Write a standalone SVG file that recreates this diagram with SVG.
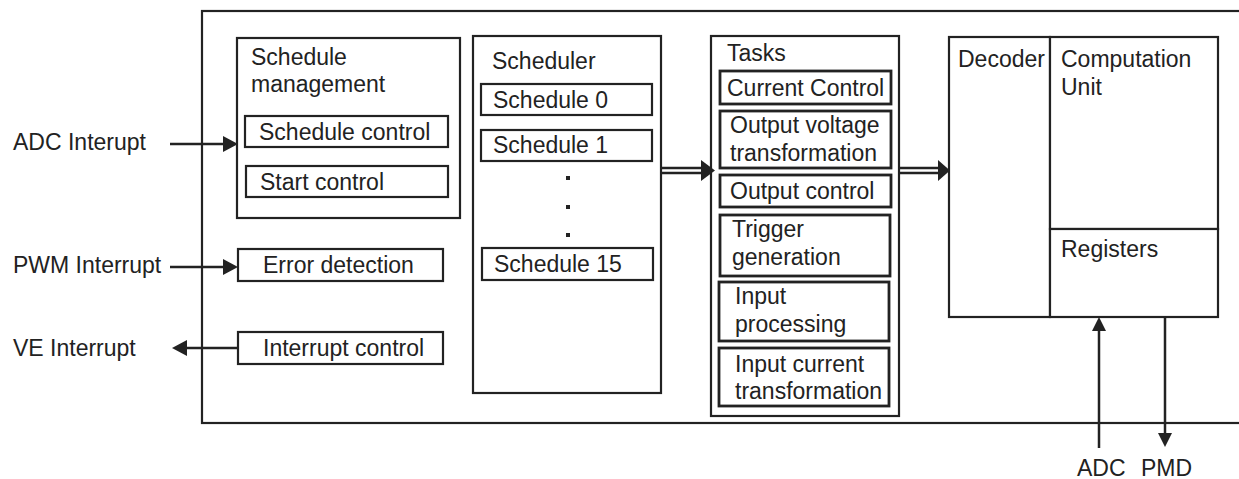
<svg xmlns="http://www.w3.org/2000/svg" width="1239" height="479" viewBox="0 0 1239 479">
<defs>
<style>
text{font-family:"Liberation Sans",Arial,sans-serif;font-size:23px;fill:#222}
.b{fill:#fff;stroke:#222;stroke-width:2.2}
.t{fill:#fff;stroke:#222;stroke-width:2.8}
.l{fill:none;stroke:#222;stroke-width:2.5}
.a{fill:#222;stroke:none}
</style>
</defs>
<rect width="1239" height="479" fill="#fff"/>
<g id="frame"><rect class="b" x="202" y="11" width="1050" height="412"/></g>
<g id="schedule-management">
<rect class="b" x="237" y="38" width="223" height="180"/>
<text x="251" y="65">Schedule</text>
<text x="251" y="92">management</text>
</g>
<g id="schedule-control"><rect class="b" x="245" y="116" width="203" height="31"/><text x="259" y="140">Schedule control</text></g>
<g id="start-control"><rect class="b" x="246" y="166" width="202" height="31"/><text x="260" y="190">Start control</text></g>
<g id="error-detection"><rect class="b" x="238" y="249" width="205" height="32"/><text x="263" y="273">Error detection</text></g>
<g id="interrupt-control"><rect class="b" x="238" y="332" width="205" height="32"/><text x="263" y="356">Interrupt control</text></g>
<g id="adc-interrupt"><text x="13" y="150">ADC Interupt</text></g>
<g id="pwm-interrupt"><text x="13" y="273">PWM Interrupt</text></g>
<g id="ve-interrupt"><text x="13" y="356">VE Interrupt</text></g>
<g id="scheduler">
<rect class="b" x="473" y="36" width="188" height="357"/>
<text x="492" y="69">Scheduler</text>
<rect class="b" x="481" y="84" width="171" height="31"/><text x="493" y="108">Schedule 0</text>
<rect class="b" x="481" y="130" width="171" height="31"/><text x="493" y="153">Schedule 1</text>
<rect class="a" x="566" y="176" width="4" height="4"/>
<rect class="a" x="566" y="205" width="4" height="4"/>
<rect class="a" x="566" y="233" width="4" height="4"/>
<rect class="b" x="482" y="248" width="171" height="32"/><text x="494" y="272">Schedule 15</text>
</g>
<g id="tasks">
<rect class="b" x="711" y="36" width="188" height="380"/>
<text x="727" y="61">Tasks</text>
<rect class="t" x="720" y="71" width="171" height="33"/><text x="727" y="96">Current Control</text>
<rect class="t" x="720" y="111" width="171" height="57"/><text x="730" y="133">Output voltage</text><text x="730" y="161">transformation</text>
<rect class="t" x="720" y="175" width="171" height="32"/><text x="730" y="199">Output control</text>
<rect class="t" x="720" y="215" width="170" height="61"/><text x="732" y="237">Trigger</text><text x="732" y="265">generation</text>
<rect class="t" x="719" y="282" width="170" height="59"/><text x="735" y="304">Input</text><text x="735" y="332">processing</text>
<rect class="t" x="719" y="348" width="170" height="58"/><text x="735" y="372">Input current</text><text x="735" y="399">transformation</text>
</g>
<g id="decoder"><rect class="b" x="949" y="37" width="101" height="280"/><text x="958" y="67">Decoder</text></g>
<g id="computation-unit"><rect class="b" x="1050" y="37" width="168" height="192"/><text x="1061" y="67">Computation</text><text x="1061" y="95">Unit</text></g>
<g id="registers"><rect class="b" x="1050" y="229" width="168" height="88"/><text x="1061" y="257">Registers</text></g>
<g id="io-labels"><text x="1077" y="476">ADC</text><text x="1141" y="476">PMD</text></g>
<g id="connectors">
<line class="l" x1="170" y1="144" x2="225" y2="144"/><polygon class="a" points="223,136 238,144 223,152"/>
<line class="l" x1="170" y1="267" x2="225" y2="267"/><polygon class="a" points="223,259 238,267 223,275"/>
<line class="l" x1="238" y1="348" x2="185" y2="348"/><polygon class="a" points="187,340 172,348 187,356"/>
<line class="l" x1="661" y1="168" x2="703" y2="168" stroke-width="2"/><line class="l" x1="661" y1="173" x2="703" y2="173" stroke-width="2"/><polygon class="a" points="701,160 715,170.5 701,181"/>
<line class="l" x1="899" y1="168" x2="940" y2="168" stroke-width="2"/><line class="l" x1="899" y1="173" x2="940" y2="173" stroke-width="2"/><polygon class="a" points="938,160 950,170.5 938,181"/>
<line class="l" x1="1099" y1="448" x2="1099" y2="328"/><polygon class="a" points="1092,331 1099,317 1106,331"/>
<line class="l" x1="1165" y1="317" x2="1165" y2="435"/><polygon class="a" points="1158,433 1165,447 1172,433"/>
</g>
</svg>
